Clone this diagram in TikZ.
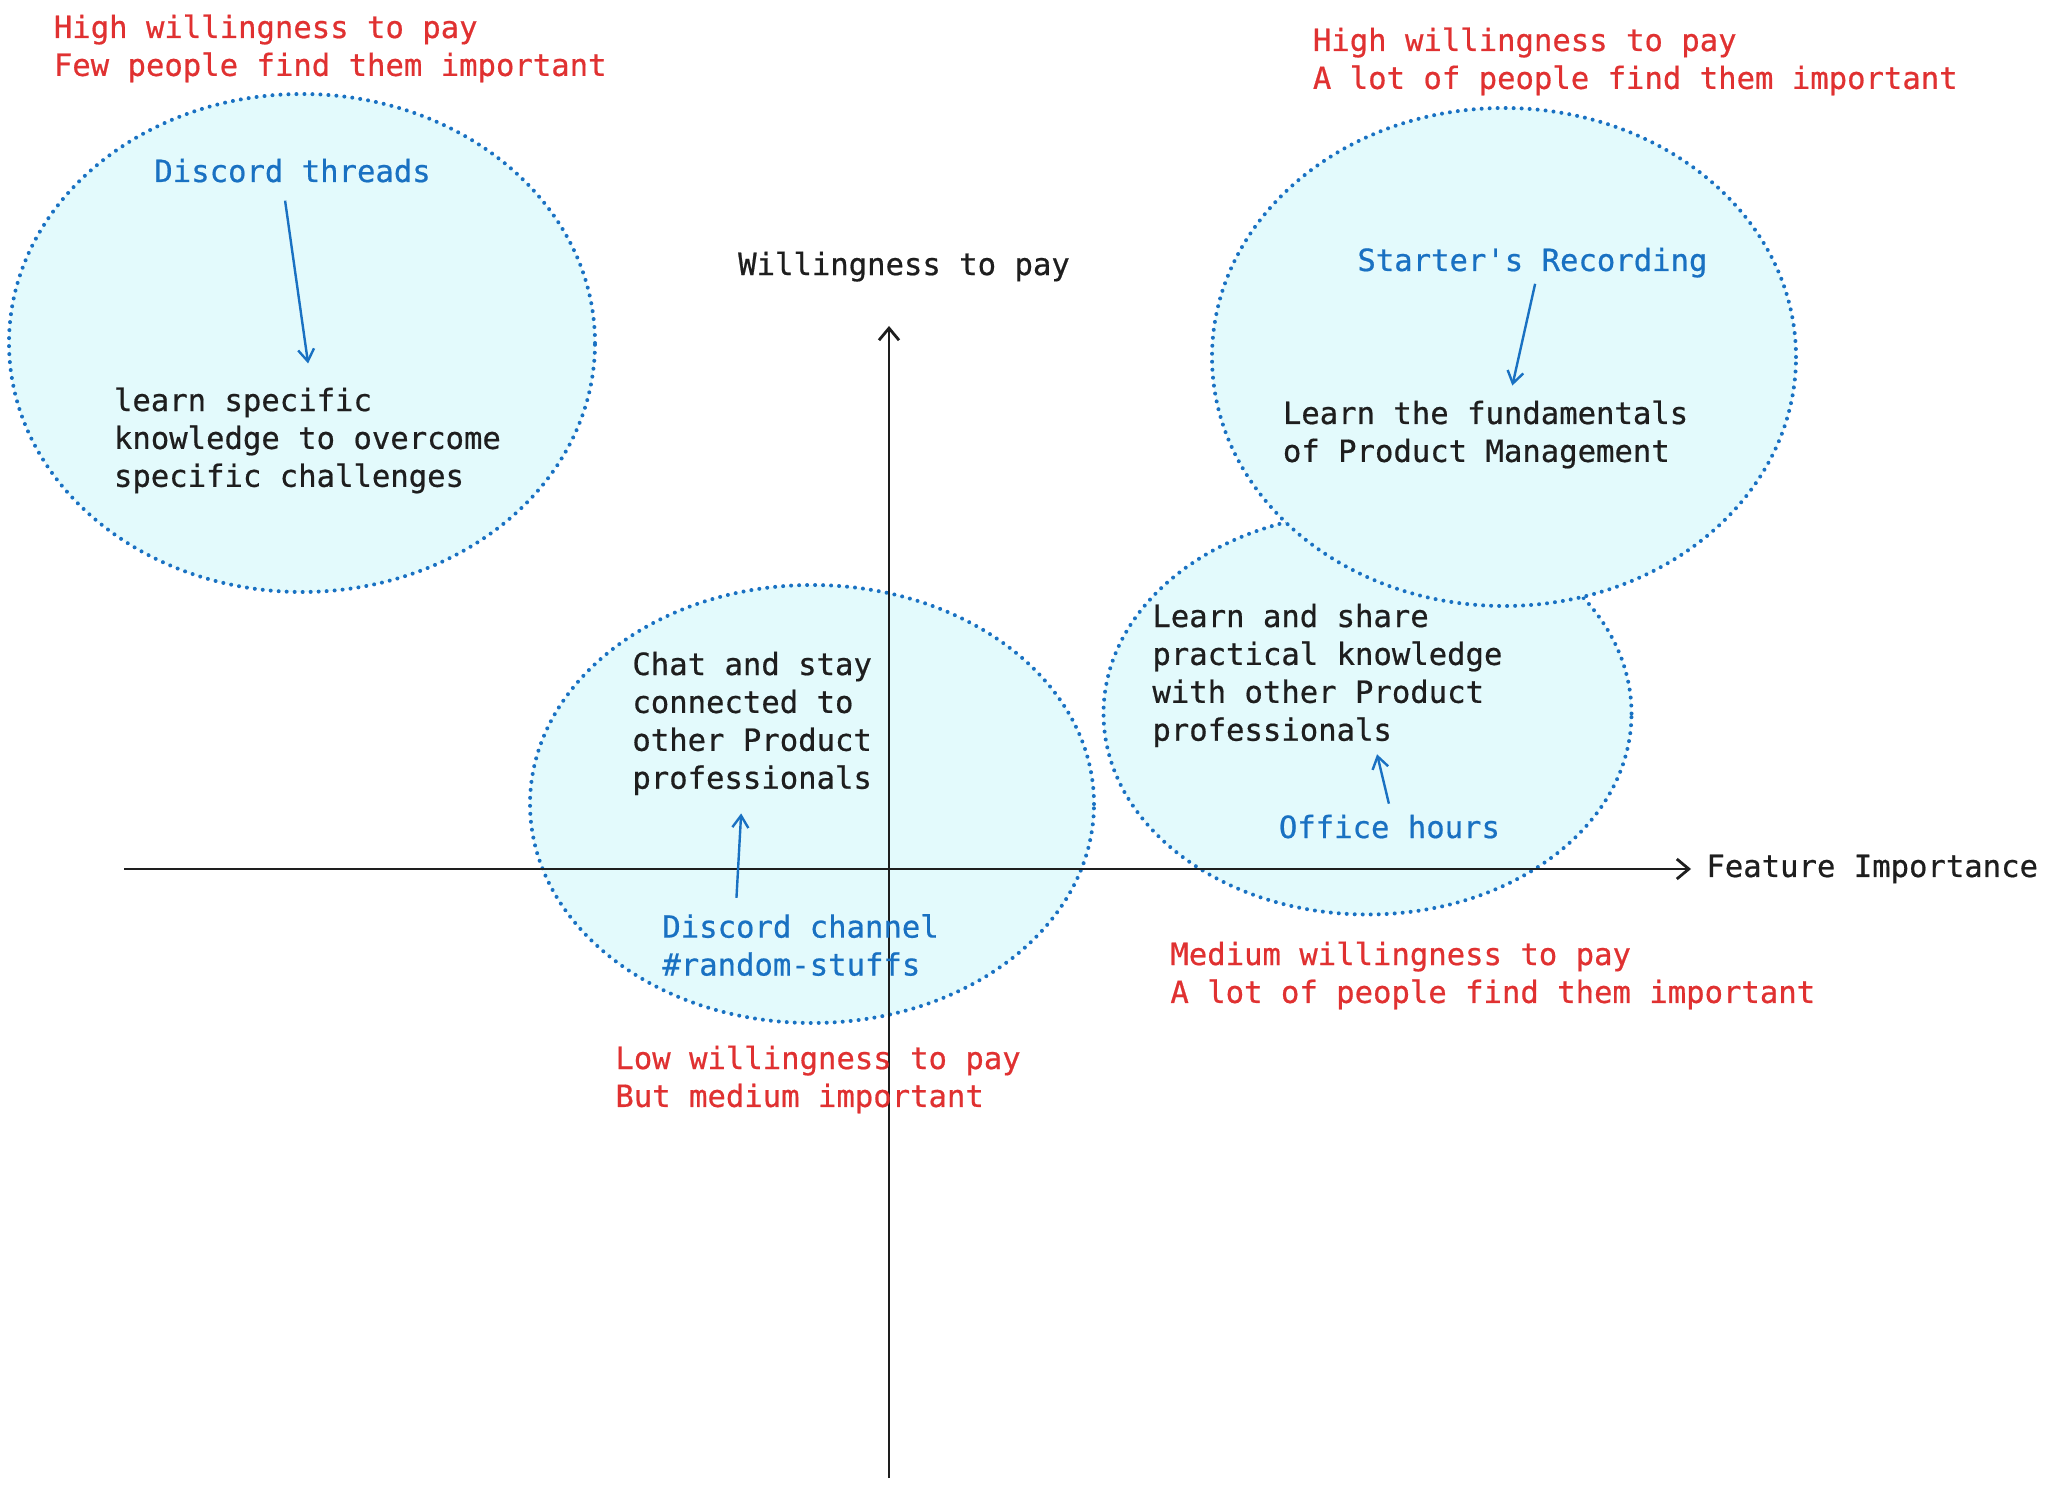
\documentclass[tikz,border=0pt]{standalone}
\usepackage{fontspec}
\setmainfont{DejaVu Sans Mono}[FakeBold=0.6]
\usepackage{tikz}
\usetikzlibrary{positioning, arrows.meta, shapes.geometric}
\definecolor{zonefill}{HTML}{E3FAFC}
\definecolor{zoneline}{HTML}{1971C2}
\definecolor{notered}{HTML}{E03131}
\definecolor{inkblack}{HTML}{1E1E1E}

\begin{document}
\begin{tikzpicture}[
        x=0.5pt, y=-0.5pt,
        zone/.style={
            ellipse,
            draw=zoneline,
            fill=zonefill,
            line width=2pt,
            dash pattern=on 0pt off 4pt,
            line cap=round,
            inner sep=0pt
        },
        txt/.style={
            anchor=base west, % base of the last line
            align=left,
            inner sep=0pt,
            text=inkblack,
            font=\fontsize{15.3pt}{18.95pt}\selectfont
        },
        feature/.style={txt, text=zoneline},
        remark/.style={txt, text=notered},
        axis/.style={-{Straight Barb[length=6pt, width=10pt]}, line width=1.4pt, draw=inkblack},
        link/.style={-{Straight Barb[length=6pt, width=8pt]}, line width=1.2pt, draw=zoneline}
    ]

    \fill[white] (0,0) rectangle (2048,1486);
    \useasboundingbox (0,0) rectangle (2048,1486);

    % --- Zones ---
    \node[zone, minimum width=293pt, minimum height=249pt] (few) at (302,343) {};
    \node[zone, minimum width=282pt, minimum height=219pt] (low) at (812,804) {};
    \node[zone, minimum width=264pt, minimum height=201pt] (med) at (1367.5,713.5) {};
    \node[zone, minimum width=292pt, minimum height=249pt] (lot) at (1504,357) {};

    % --- Axes ---
    \coordinate (xstart) at (124,869);
    \coordinate (xtip) at (1691,869);
    \coordinate (ybot) at (889,1478);
    \coordinate (ytip) at (889,326);
    \draw[axis] (xstart) -- (xtip);
    \draw[axis] (ybot) -- (ytip);
    \node[txt, right=7.5pt of xtip] (xlabel) {Feature Importance};
    \node[txt, above=22pt of ytip, xshift=7.5pt] (ylabel) {Willingness to pay};

    % --- Nodes ---
    \node[remark] (fewnote) at (53.5,75.9) {High willingness to pay\\Few people find them important};
    \node[remark] (lotnote) at (1312.5,88.9) {High willingness to pay\\A lot of people find them important};
    \node[remark] (mednote) at (1170,1002.9) {Medium willingness to pay\\A lot of people find them important};
    \node[remark] (lownote) at (615,1106.9) {Low willingness to pay\\But medium important};

    \node[feature] (threads) at (154,182) {Discord threads};
    \node[txt] (specific) at (113.6,486.8) {learn specific\\knowledge to overcome\\specific challenges};

    \node[feature] (recording) at (1357,271) {Starter\textquotesingle s Recording};
    \node[txt] (fundamentals) at (1282.5,461.9) {Learn the fundamentals\\of Product Management};

    \node[txt] (chat) at (632,788.7) {Chat and stay\\connected to\\other Product\\professionals};
    \node[feature] (channel) at (662,975.5) {Discord channel\\\#random-stuffs};

    \node[txt] (share) at (1152,740.7) {Learn and share\\practical knowledge\\with other Product\\professionals};
    \node[feature] (office) at (1278.5,838) {Office hours};

    % --- Arrows ---
    \draw[link, shorten <=9pt, shorten >=12pt] ([xshift=-5pt]threads.south) -- ([xshift=2pt]specific.north);
    \draw[link, shorten <=3pt, shorten >=7.5pt] ([xshift=2pt]recording.south) -- ([xshift=11.75pt]fundamentals.north);
    \draw[link, shorten <=5.5pt, shorten >=3.5pt] ([xshift=1pt]office.north) -- ([xshift=24pt]share.south);
    \draw[link, shorten <=8pt, shorten >=9pt] ([xshift=-32.5pt]channel.north) -- ([xshift=-5pt]chat.south);

\end{tikzpicture}
\end{document}
